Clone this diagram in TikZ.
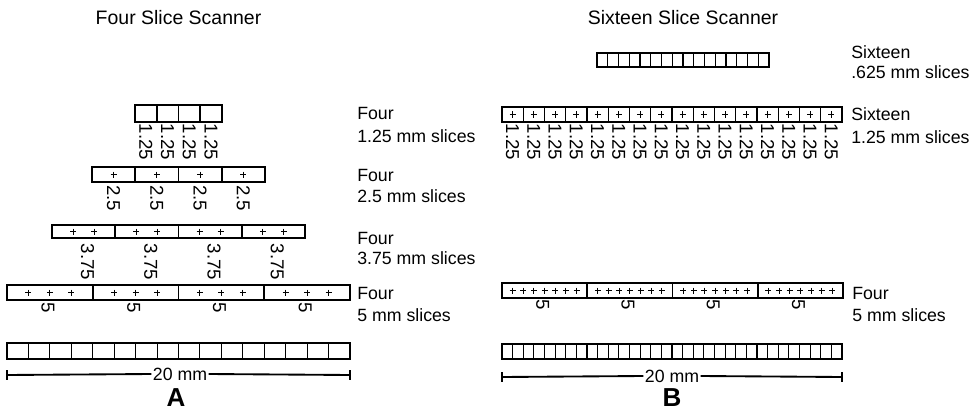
\documentclass[tikz,border=0pt]{standalone}
\usepackage{fontspec}
\setmainfont{Liberation Sans}
\newcommand{\srow}[8]{% #1 name, #2 x0, #3 x1, #4 ytop, #5 ybot, #6 cells, #7 pluses per cell, #8 divider width
  \pgfmathsetmacro\slcw{(#3-#2)/#6}
  \pgfmathtruncatemacro\slnm{#6-1}
  \pgfmathsetmacro\slym{(#4+#5)/2}
  \foreach \i in {1,...,\slnm} {\draw[line width=#8] ({#2+\i*\slcw},#4) -- ({#2+\i*\slcw},#5);}
  \ifnum#7>0
    \foreach \i in {0,...,\slnm} {\foreach \j in {1,...,#7} {
      \pgfmathsetmacro\slpx{#2+\i*\slcw+\j*\slcw/(#7+1)}
      \draw[plusmark] (\slpx-3,\slym) -- (\slpx+3,\slym) (\slpx,\slym-3) -- (\slpx,\slym+3);
    }}
  \fi
  \draw[outer] (#2,#4) rectangle (#3,#5);
  \coordinate (#1) at ({(#2+#3)/2},#5);
}
\begin{document}
\begin{tikzpicture}[x=0.75pt,y=-0.75pt,
  outer/.style={line width=1.6pt},
  plusmark/.style={line width=0.75pt},
  num/.style={rotate=-90,font=\fontsize{14}{14}\selectfont,inner sep=0pt},
  lbl/.style={anchor=west,font=\fontsize{13.3}{14}\selectfont,inner sep=0pt},
  ttl/.style={font=\fontsize{14.6}{16}\selectfont,inner sep=0pt},
  big/.style={font=\fontsize{19.5}{20}\selectfont\bfseries,inner sep=0pt,anchor=base},
  bar/.style={line width=1.4pt}]
\useasboundingbox (0,0) rectangle (971,410);
% titles
\node[ttl] (t1) at (178.5,18) {Four Slice Scanner};
\node[ttl] (t2) at (683,18) {Sixteen Slice Scanner};
% ===== left panel =====
\srow{ra}{135}{222}{105}{122}{4}{0}{1.3pt}
\foreach \k in {0,...,3} {\node[num] (ran\k) at ({135+(\k+0.5)*21.75},142) {1.25};}
\node[lbl] (la1) at (357,113) {Four};
\node[lbl] (la2) at (357,136) {1.25 mm slices};

\srow{rb}{92}{265}{167}{182}{4}{1}{1.3pt}
\foreach \k in {0,...,3} {\node[num] (rbn\k) at ({92+(\k+0.5)*43.25},198) {2.5};}
\node[lbl] (lb1) at (357,175) {Four};
\node[lbl] (lb2) at (357,196) {2.5 mm slices};

\srow{rc}{52}{305}{225}{238}{4}{2}{1.3pt}
\foreach \k in {0,...,3} {\node[num] (rcn\k) at ({52+(\k+0.5)*63.25+4},262) {3.75};}
\node[lbl] (lc1) at (357,238) {Four};
\node[lbl] (lc2) at (357,258) {3.75 mm slices};

\srow{rd}{7}{350}{285}{300}{4}{3}{1.3pt}
\foreach \k in {0,...,3} {\node[num] (rdn\k) at ({7+(\k+0.5)*85.75-2},308) {5};}
\node[lbl] (ld1) at (357,293) {Four};
\node[lbl] (ld2) at (357,315) {5 mm slices};

\srow{re}{7}{350}{343}{359}{16}{0}{0.8pt}
\coordinate (ba) at (7,375);
\coordinate (bb) at (350,375);
\node[font=\fontsize{13.3}{14}\selectfont,fill=white,inner sep=1pt] (sa) at (180,374) {20 mm};
\draw[bar] (ba) -- (sa.west) (sa.east) -- (bb);
\draw[bar] (7,370) -- (7,380) (350,370) -- (350,380);
\node[big] (A) at (176,406) {A};
% ===== right panel =====
\srow{rf}{597}{769}{53}{67}{16}{0}{0.8pt}
\node[lbl] (lf1) at (851,52) {Sixteen};
\node[lbl] (lf2) at (851,72) {.625 mm slices};

\srow{rg}{502}{842}{107}{122}{16}{1}{1.1pt}
\foreach \k in {0,...,15} {\node[num] (rgn\k) at ({502+(\k+0.5)*21.25},142) {1.25};}
\node[lbl] (lg1) at (851,114) {Sixteen};
\node[lbl] (lg2) at (851,137) {1.25 mm slices};

\srow{rh}{502}{843}{283}{298}{4}{7}{1.3pt}
\foreach \k in {0,...,3} {\node[num] (rhn\k) at ({502+(\k+0.5)*85.25-2},305) {5};}
\node[lbl] (lh1) at (852,293) {Four};
\node[lbl] (lh2) at (852,315) {5 mm slices};

\srow{ri}{502}{842}{344}{359}{32}{0}{0.8pt}
\coordinate (bc) at (502,377);
\coordinate (bd) at (842,377);
\node[font=\fontsize{13.3}{14}\selectfont,fill=white,inner sep=1pt] (sb) at (672,376) {20 mm};
\draw[bar] (bc) -- (sb.west) (sb.east) -- (bd);
\draw[bar] (502,372) -- (502,382) (842,372) -- (842,382);
\node[big] (B) at (672,406) {B};
\end{tikzpicture}
\end{document}
